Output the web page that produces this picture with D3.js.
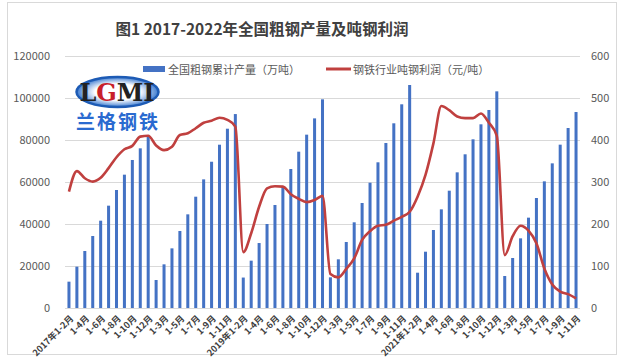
<!DOCTYPE html>
<html><head><meta charset="utf-8">
<script src="https://cdn.jsdelivr.net/npm/d3@7"></script>
<style>
body{margin:0;background:#fff;}
text{font-family:"Noto Sans CJK SC","Noto Sans",sans-serif;}
</style></head>
<body><svg id="c" width="622" height="361"></svg>
<script>
const title = "图1 2017-2022年全国粗钢产量及吨钢利润";
const seriesNames = ["全国粗钢累计产量（万吨）", "钢铁行业吨钢利润（元/吨）"];
const years = ["2017","2018","2019","2020","2021","2022"];
const periods = ["1-2月","1-3月","1-4月","1-5月","1-6月","1-7月","1-8月","1-9月","1-10月","1-11月","1-12月"];
const periods2022 = ["1-2月","1-3月","1-4月","1-5月","1-6月","1-7月","1-8月","1-9月","1-10月","1-11月"];
const output = [
  12540, 19680, 27140, 34280, 41580, 48730, 56190, 63490, 70480, 76030, 81900,
  13330, 20790, 28400, 36670, 44600, 53000, 61260, 69650, 77760, 85380, 92350,
  14500, 22540, 30940, 40000, 49050, 57770, 66190, 74440, 82540, 90300, 99370,
  14600, 23180, 31430, 40800, 50000, 59670, 69380, 78570, 87950, 97000, 106190,
  16810, 26810, 37140, 46980, 55860, 64600, 73190, 80330, 87470, 94290, 103170,
  15240, 23810, 33170, 43020, 52380, 60310, 68880, 77780, 85710, 93330
];
const profit = [
  277, 326, 309, 301, 310, 333, 359, 378, 386, 408, 410,
  387, 376, 384, 412, 416, 428, 441, 446, 453, 448, 432,
  133, 178, 241, 285, 290, 289, 271, 260, 252, 257, 267,
  81, 73, 93, 118, 162, 183, 196, 198, 208, 217, 229,
  265, 317, 392, 481, 471, 456, 452, 452, 463, 441, 410,
  126, 171, 196, 184, 154, 94, 56, 39, 33, 23
];
const leftTicks = [0,20000,40000,60000,80000,100000,120000];
const rightTicks = [0,100,200,300,400,500,600];

const categories = [];
years.forEach((y,yi)=>{
  const ps = y==="2022" ? periods2022 : periods;
  ps.forEach((p,pi)=>{
    categories.push((pi===0 && (y==="2017"||y==="2019"||y==="2021")) ? y+"年"+p : p);
  });
});
const data = categories.map((c,i)=>({i, c, v: output[i], p: profit[i]}));

const svg = d3.select("#c");
svg.append("rect").attr("x",7.5).attr("y",2.5).attr("width",609).attr("height",352)
  .attr("fill","#fff").attr("stroke","#d9d9d9");

const L=65, R=580, T=56, B=308;
const x = d3.scaleBand().domain(data.map(d=>d.i)).range([L,R]).paddingInner(0.62).paddingOuter(0.31);
const yL = d3.scaleLinear().domain([0,120000]).range([B,T]);
const yR = d3.scaleLinear().domain([0,600]).range([B,T]);

svg.append("g").selectAll("line").data(leftTicks).join("line")
  .attr("x1",L).attr("x2",R).attr("y1",d=>yL(d)+0.5).attr("y2",d=>yL(d)+0.5)
  .attr("stroke","#d9d9d9").attr("stroke-width",1);

const ga = svg.append("g").attr("transform",`translate(${L-10},0)`)
  .call(d3.axisLeft(yL).tickValues(leftTicks).tickSize(0).tickFormat(d3.format("d")));
ga.select(".domain").remove();
ga.selectAll("text").attr("fill","#595959").style("font-size","11px").attr("dx","-2");

const gr = svg.append("g").attr("transform",`translate(${R+8},0)`)
  .call(d3.axisRight(yR).tickValues(rightTicks).tickSize(0).tickFormat(d3.format("d")));
gr.select(".domain").remove();
gr.selectAll("text").attr("fill","#595959").style("font-size","11px");

const gb = svg.append("g").attr("transform",`translate(0,${B})`)
  .call(d3.axisBottom(x).tickValues(data.filter(d=>d.i%2===0).map(d=>d.i)).tickSize(0)
    .tickFormat(i=>categories[i]));
gb.select(".domain").remove();
gb.selectAll("text").attr("fill","#404040").style("font-size","9px").style("font-weight","bold")
  .attr("text-anchor","end").attr("dy","0").attr("dx","0")
  .attr("transform","translate(3,9) rotate(-45)");

svg.append("g").selectAll("rect").data(data).join("rect")
  .attr("x",d=>x(d.i)).attr("width",x.bandwidth())
  .attr("y",d=>yL(d.v)).attr("height",d=>B-yL(d.v)).attr("fill","#4472C4");

const line = d3.line().x(d=>x(d.i)+x.bandwidth()/2).y(d=>yR(d.p)).curve(d3.curveMonotoneX);
svg.append("path").datum(data).attr("d",line).attr("fill","none")
  .attr("stroke","#C0403F").attr("stroke-width",2.6).attr("stroke-linejoin","round");

svg.append("text").attr("x",262).attr("y",35).attr("text-anchor","middle")
  .attr("fill","#404040").style("font-size","15.5px").style("font-weight","bold").text(title);

svg.append("rect").attr("x",143).attr("y",66).attr("width",22).attr("height",6).attr("fill","#4472C4");
svg.append("text").attr("x",168).attr("y",73.5).attr("fill","#595959").style("font-size","11px").text(seriesNames[0]);
svg.append("line").attr("x1",326).attr("x2",351).attr("y1",69).attr("y2",69)
  .attr("stroke","#C0403F").attr("stroke-width",3);
svg.append("text").attr("x",353).attr("y",73.5).attr("fill","#595959").style("font-size","11px").text(seriesNames[1]);

const lg = svg.append("g");
const grad = svg.append("defs").append("radialGradient").attr("id","lgg");
grad.append("stop").attr("offset","55%").attr("stop-color","#ffffff");
grad.append("stop").attr("offset","100%").attr("stop-color","#3d7bd0");
lg.append("ellipse").attr("cx",117.5).attr("cy",92).attr("rx",41).attr("ry",15)
  .attr("fill","url(#lgg)").attr("stroke","#1d5bb5").attr("stroke-width",2.5);
const lt = lg.append("text").attr("x",117).attr("y",101).attr("text-anchor","middle")
  .style("font-family","'DejaVu Serif','Liberation Serif',serif").style("font-size","24px").style("font-weight","bold");
lt.append("tspan").attr("fill","#222").text("L");
lt.append("tspan").attr("fill","#c8202a").text("G");
lt.append("tspan").attr("fill","#222").text("MI");
lg.append("text").attr("x",118).attr("y",129).attr("text-anchor","middle")
  .attr("fill","#2a6ad0").style("font-size","19px").style("font-weight","bold")
  .style("letter-spacing","2px").text("兰格钢铁");
</script></body></html>
